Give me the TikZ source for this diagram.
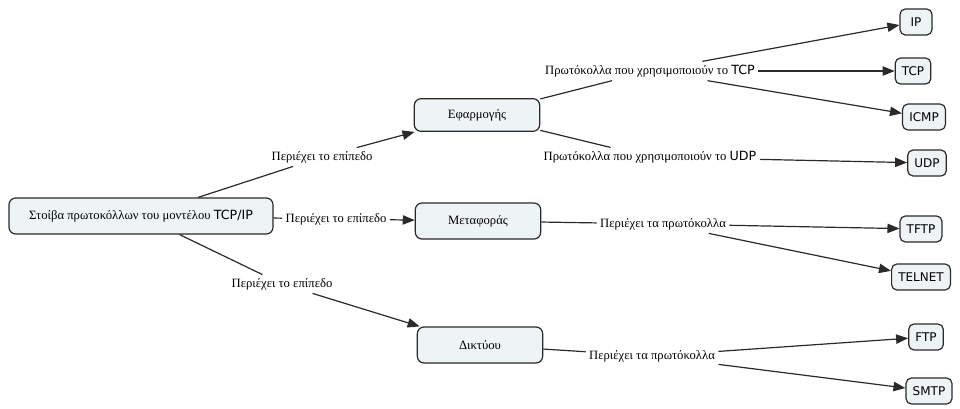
\documentclass[tikz,border=0pt]{standalone}
\usepackage{fontspec}
\setmainfont{Liberation Serif}
\setsansfont{DejaVu Sans}
\usetikzlibrary{arrows.meta}
\definecolor{cmapfill}{HTML}{EEF3F6}
\definecolor{cmapline}{HTML}{2A2A2A}
\begin{document}
\begin{tikzpicture}[x=0.75pt, y=-0.75pt,
    concept/.style={draw=cmapline, fill=cmapfill, rounded corners=5pt, line width=0.9pt,
        minimum width=94pt, minimum height=27pt, font=\fontsize{9.5}{11}\selectfont},
    proto/.style={draw=cmapline, fill=cmapfill, rounded corners=4pt, line width=0.9pt,
        minimum width=24pt, minimum height=19.5pt, inner xsep=5pt, font=\sffamily\fontsize{9}{10}\selectfont},
    phrase/.style={inner sep=2.5pt, font=\fontsize{9.5}{11}\selectfont},
    link/.style={draw=cmapline, line width=0.9pt},
    linkto/.style={link, -{Triangle[length=9pt,width=7pt]}}]
    \useasboundingbox (0,0) rectangle (960,408);
    % concepts
    \node[concept, minimum width=198pt] (stack) at (141,216) {Στοίβα πρωτοκόλλων του μοντέλου {\sffamily TCP/IP}};
    \node[concept, minimum height=24.5pt] (app) at (477,115) {Εφαρμογής};
    \node[concept] (trans) at (478,221) {Μεταφοράς};
    \node[concept] (net) at (480,345) {Δικτύου};
    % protocols
    \node[proto] (ip) at (916,22) {IP};
    \node[proto] (tcp) at (913,71) {TCP};
    \node[proto] (icmp) at (924,117) {ICMP};
    \node[proto] (udp) at (927,163) {UDP};
    \node[proto] (tftp) at (921,229) {TFTP};
    \node[proto] (telnet) at (921,277) {TELNET};
    \node[proto] (ftp) at (926,337) {FTP};
    \node[proto] (smtp) at (929,391) {SMTP};
    % linking phrases
    \node[phrase] (hasapp) at (322,157) {Περιέχει το επίπεδο};
    \node[phrase] (hastrans) at (336,219) {Περιέχει το επίπεδο};
    \node[phrase] (hasnet) at (282,284) {Περιέχει το επίπεδο};
    \node[phrase] (overtcp) at (650,71) {Πρωτόκολλα που χρησιμοποιούν το {\sffamily TCP}};
    \node[phrase] (overudp) at (650,157) {Πρωτόκολλα που χρησιμοποιούν το {\sffamily UDP}};
    \node[phrase] (transproto) at (663,224) {Περιέχει τα πρωτόκολλα};
    \node[phrase] (netproto) at (652,356) {Περιέχει τα πρωτόκολλα};
    % connectors
    \draw[link] (stack) -- (hasapp);
    \draw[linkto] (hasapp) -- (app);
    \draw[link] (stack) -- (hastrans);
    \draw[linkto] (hastrans) -- (trans);
    \draw[link] (stack) -- (hasnet);
    \draw[linkto] (hasnet) -- (net);
    \draw[link] (app) -- (overtcp);
    \draw[linkto] (overtcp) -- (ip);
    \draw[linkto] (overtcp) -- (tcp);
    \draw[linkto] (overtcp) -- (icmp);
    \draw[link] (app) -- (overudp);
    \draw[linkto] (overudp) -- (udp);
    \draw[link] (trans) -- (transproto);
    \draw[linkto] (transproto) -- (tftp);
    \draw[linkto] (transproto) -- (telnet);
    \draw[link] (net) -- (netproto);
    \draw[linkto] (netproto) -- (ftp);
    \draw[linkto] (netproto) -- (smtp);
\end{tikzpicture}
\end{document}
